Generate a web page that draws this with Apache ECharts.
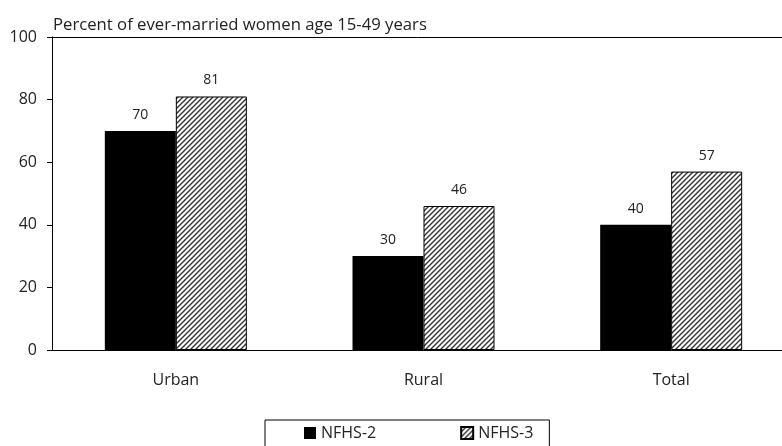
<!DOCTYPE html>
<html>
<head>
<meta charset="utf-8">
<script src="https://cdn.jsdelivr.net/npm/echarts@6/dist/echarts.min.js"></script>
<style>
  html, body { margin: 0; padding: 0; background: #fff; }
  #mybox { width: 782px; height: 446px; }
</style>
</head>
<body>
<div id="mybox"></div>
<script>
// data
var categories = ['Urban', 'Rural', 'Total'];
var nfhs2 = [70, 30, 40];
var nfhs3 = [81, 46, 57];
var seriesNames = ['NFHS-2', 'NFHS-3'];
var yTicks = { min: 0, max: 100, step: 20 };

// hatch pattern for NFHS-3
var tile = document.createElement('canvas');
tile.width = 5; tile.height = 5;
var ctx = tile.getContext('2d');
ctx.fillStyle = '#fff';
ctx.fillRect(0, 0, 5, 5);
ctx.strokeStyle = '#333';
ctx.lineWidth = 1.4;
ctx.beginPath();
ctx.moveTo(-1, 6); ctx.lineTo(6, -1);
ctx.moveTo(-1, 1); ctx.lineTo(1, -1);
ctx.moveTo(4, 6); ctx.lineTo(6, 4);
ctx.stroke();

var font = '"Open Sans", Lato, sans-serif';
var txt = '#222';

var mycharts = echarts.init(document.getElementById('mybox'));
var option = {
    animation: false,
    textStyle: { fontFamily: font },
    title: {
        text: 'Percent of ever-married women age 15-49 years',
        left: 48, top: 12,
        textStyle: { fontSize: 16.7, fontWeight: 'normal', color: txt, fontFamily: font }
    },
    legend: {
        data: seriesNames,
        left: 265, top: 420,
        borderColor: '#000', borderWidth: 1,
        padding: [5, 16, 14, 39],
        itemGap: 84,
        itemWidth: 12, itemHeight: 12,
        icon: 'rect',
        textStyle: { fontSize: 16, color: txt, fontFamily: font }
    },
    // grid runs a little past the right edge of the canvas
    grid: { left: 52, width: 743, top: 37, bottom: 96, outerBoundsMode: 'none', containLabel: false },
    xAxis: [{
        type: 'category',
        data: categories,
        axisLine: { lineStyle: { color: '#000', width: 1 } },
        axisTick: { show: false },
        axisLabel: { fontSize: 16, color: txt, margin: 22, fontFamily: font }
    }, {
        type: 'category',
        position: 'top',
        data: categories,
        axisLine: { lineStyle: { color: '#000', width: 1 } },
        axisTick: { show: false },
        axisLabel: { show: false }
    }],
    yAxis: {
        type: 'value',
        min: yTicks.min, max: yTicks.max, interval: yTicks.step,
        axisLine: { show: true, lineStyle: { color: '#000', width: 1 } },
        axisTick: { show: true, length: 5, lineStyle: { color: '#000' } },
        splitLine: { show: false },
        axisLabel: { fontSize: 16, color: txt, margin: 15, fontFamily: font }
    },
    series: [{
        name: seriesNames[0],
        type: 'bar',
        data: nfhs2,
        barWidth: 71,
        barGap: '0%',
        itemStyle: { color: '#000' },
        label: { show: true, position: 'top', distance: 9, fontSize: 14, color: txt, fontFamily: font }
    }, {
        name: seriesNames[1],
        type: 'bar',
        data: nfhs3,
        barWidth: 71,
        barGap: '0%',
        itemStyle: { color: { image: tile, repeat: 'repeat' }, borderColor: '#000', borderWidth: 1 },
        label: { show: true, position: 'top', distance: 9, fontSize: 14, color: txt, fontFamily: font }
    }]
};
mycharts.setOption(option);
</script>
</body>
</html>
